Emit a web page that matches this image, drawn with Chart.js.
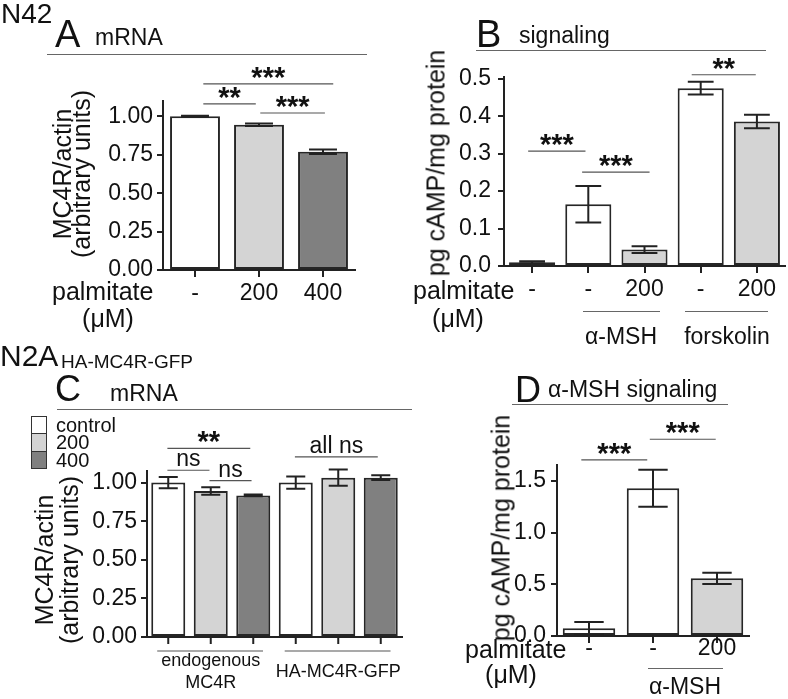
<!DOCTYPE html>
<html>
<head>
<meta charset="utf-8">
<script src="https://cdn.jsdelivr.net/npm/chart.js@4"></script>
<style>
body { margin: 0; background: #fff; }
#fig { position: relative; width: 788px; height: 699px; overflow: hidden; font-family: "Liberation Sans", Arial, sans-serif; color: #111; }
#fig canvas { position: absolute; left: 0; top: 0; }
.t { position: absolute; white-space: nowrap; line-height: 1; }
.rule { position: absolute; height: 0; border-top: 1.2px solid #666; }
.box { position: absolute; box-sizing: border-box; border: 1.5px solid #333; }
</style>
</head>
<body>
<div id="fig">
	<canvas id="chartA" width="788" height="699"></canvas>
	<canvas id="chartB" width="788" height="699"></canvas>
	<canvas id="chartC" width="788" height="699"></canvas>
	<canvas id="chartD" width="788" height="699"></canvas>
</div>
<script>
// ---- data ----
var WHITE = '#ffffff', LIGHT = '#d4d4d4', DARK = '#808080';

// A: N42 MC4R mRNA
var catsA = ['-', '200', '400'];
var mrnaA = [1.00, 0.945, 0.77];
var mrnaErrA = [0.004, 0.008, 0.015];
var ticksA = [0, 0.25, 0.5, 0.75, 1.0];

// B: N42 cAMP signaling
var catsB = ['-', '-', '200', '-', '200'];
var campB = [0.01, 0.165, 0.044, 0.475, 0.386];
var campErrB = [0.003, 0.049, 0.009, 0.017, 0.018];
var ticksB = [0, 0.1, 0.2, 0.3, 0.4, 0.5];

// C: N2A HA-MC4R-GFP mRNA
var groupsC = [['endogenous', 'MC4R'], 'HA-MC4R-GFP'];
var seriesC = ['control', '200', '400'];
var controlC = [1.00, 1.00];
var p200C = [0.946, 1.032];
var p400C = [0.917, 1.032];
var controlErrC = [0.036, 0.04];
var p200ErrC = [0.024, 0.052];
var p400ErrC = [0.006, 0.016];
var ticksC = [0, 0.25, 0.5, 0.75, 1.0];

// D: alpha-MSH signaling
var catsD = ['-', '-', '200'];
var campD = [0.075, 1.43, 0.558];
var campErrD = [0.06, 0.18, 0.055];
var ticksD = [0, 0.5, 1.0, 1.5];

// significance brackets: [from category, to category, height (y units), label]
var sigA = [[0.13, 0.95, 1.081, '**'], [1.02, 2.03, 1.022, '***'], [0.13, 2.16, 1.211, '***']];
var sigB = [[-0.07, 0.95, 0.307, '***'], [0.89, 2.09, 0.251, '***'], [2.84, 3.98, 0.511, '**']];
var sigC = [[-0.34, 0.31, 1.221, '**'], [-0.34, -0.01, 1.08, 'ns'], [-0.01, 0.32, 1.013, 'ns'], [0.66, 1.31, 1.167, 'all ns']];
var sigD = [[-0.12, 0.91, 1.704, '***'], [0.95, 1.98, 1.904, '***']];

Chart.defaults.font.family = '"Liberation Sans", Arial, sans-serif';
Chart.defaults.color = '#111';

// error bars + brackets (+ per-bar ticks and group rules for grouped panel)
function extras(brackets, grouped) {
	return {
		id: 'extras',
		afterDatasetsDraw: function(chart) {
			var ctx = chart.ctx, xs = chart.scales.x, ys = chart.scales.y, area = chart.chartArea;
			ctx.save();
			ctx.strokeStyle = '#222';
			ctx.lineWidth = 2;
			chart.data.datasets.forEach(function(ds, d) {
				chart.getDatasetMeta(d).data.forEach(function(bar, i) {
					var hi = ys.getPixelForValue(ds.data[i] + ds.err[i]);
					var lo = ys.getPixelForValue(ds.data[i] - ds.err[i]);
					var cap = bar.width * 0.28;
					ctx.beginPath();
					ctx.moveTo(bar.x, hi); ctx.lineTo(bar.x, lo);
					ctx.moveTo(bar.x - cap, hi); ctx.lineTo(bar.x + cap, hi);
					ctx.moveTo(bar.x - cap, lo); ctx.lineTo(bar.x + cap, lo);
					ctx.stroke();
					if (grouped) {
						ctx.beginPath();
						ctx.moveTo(bar.x, area.bottom); ctx.lineTo(bar.x, area.bottom + 7);
						ctx.stroke();
					}
				});
			});
			ctx.lineWidth = 1.2;
			ctx.strokeStyle = '#555';
			if (grouped) {
				chart.data.labels.forEach(function(l, i) {
					ctx.beginPath();
					ctx.moveTo(xs.getPixelForValue(i - 0.42), area.bottom + 14);
					ctx.lineTo(xs.getPixelForValue(i + 0.41), area.bottom + 14);
					ctx.stroke();
				});
			}
			ctx.fillStyle = '#111';
			ctx.textAlign = 'center';
			ctx.textBaseline = 'alphabetic';
			brackets.forEach(function(b) {
				var x1 = xs.getPixelForValue(b[0]), x2 = xs.getPixelForValue(b[1]), y = ys.getPixelForValue(b[2]);
				ctx.beginPath(); ctx.moveTo(x1, y); ctx.lineTo(x2, y); ctx.stroke();
				var star = b[3].indexOf('*') >= 0;
				ctx.font = star ? 'bold 29px "Liberation Sans", Arial, sans-serif' : '23px "Liberation Sans", Arial, sans-serif';
				ctx.fillText(b[3], (x1 + x2) / 2, star ? y + 3 : y - 4);
			});
			ctx.restore();
		}
	};
}

function bars(values, errs, colors, pct) {
	return {
		data: values, err: errs,
		backgroundColor: colors, borderColor: '#262626', borderWidth: 2, borderSkipped: false,
		barPercentage: pct, categoryPercentage: 1
	};
}

function panel(id, o) {
	return new Chart(document.getElementById(id), {
		type: 'bar',
		data: { labels: o.labels, datasets: o.datasets },
		options: {
			responsive: false,
			animation: false,
			events: [],
			layout: { padding: o.pad },
			plugins: { legend: { display: false }, tooltip: { enabled: false } },
			scales: {
				x: {
					grid: { offset: false, drawOnChartArea: false, tickLength: 7, lineWidth: 2, color: o.grouped ? 'rgba(0,0,0,0)' : '#222' },
					border: { color: '#222', width: 2 },
					ticks: { font: { size: o.xFont, lineHeight: o.xLine }, color: '#111', padding: o.xPad, maxRotation: 0, autoSkip: false, crossAlign: o.grouped ? 'center' : 'near' },
					afterFit: function(s) { s.height = o.xh; }
				},
				y: {
					min: 0, max: o.max,
					grid: { drawOnChartArea: false, tickLength: 6, lineWidth: 2, color: '#222' },
					border: { color: '#222', width: 2 },
					ticks: { font: { size: 23 }, color: '#111', padding: o.yPad, callback: function(v) { return v.toFixed(o.dec); } },
					afterBuildTicks: function(s) { s.ticks = o.ticks.map(function(v) { return { value: v }; }); },
					afterFit: function(s) { s.width = 60; }
				}
			}
		},
		plugins: [extras(o.sig, o.grouped)]
	});
}

panel('chartA', {
	labels: catsA,
	datasets: [bars(mrnaA, mrnaErrA, [WHITE, LIGHT, DARK], 0.78)],
	pad: { left: 103, right: 433, top: 101, bottom: 379 }, xh: 50,
	max: 1.1, ticks: ticksA, dec: 2, sig: sigA, xFont: 23, xPad: 3, yPad: 4
});

panel('chartB', {
	labels: catsB,
	datasets: [bars(campB, campErrB, [WHITE, WHITE, LIGHT, WHITE, LIGHT], 0.82)],
	pad: { left: 444, right: 3, top: 77, bottom: 383 }, xh: 50,
	max: 0.505, ticks: ticksB, dec: 1, sig: sigB, xFont: 23, xPad: 3, yPad: 7
});

panel('chartC', {
	labels: groupsC,
	datasets: [
		bars(controlC, controlErrC, WHITE, 0.8),
		bars(p200C, p200ErrC, LIGHT, 0.8),
		bars(p400C, p400ErrC, DARK, 0.8)
	],
	pad: { left: 87, right: 386, top: 471, bottom: 0 }, xh: 62,
	max: 1.075, ticks: ticksC, dec: 2, sig: sigC, xFont: 18, xLine: 22 / 18, xPad: 17, yPad: 4, grouped: true
});

panel('chartD', {
	labels: catsD,
	datasets: [bars(campD, campErrD, [WHITE, WHITE, LIGHT], 0.82)],
	pad: { left: 497, right: 39, top: 465, bottom: 23 }, xh: 40,
	max: 1.655, ticks: ticksD, dec: 1, sig: sigD, xFont: 23, xPad: -8, yPad: 5
});

// ---- text and rules ----
var fig = document.getElementById('fig');
function text(str, x, base, size, center) {
	var el = document.createElement('div');
	el.className = 't';
	el.textContent = str;
	el.style.fontSize = size + 'px';
	el.style.left = x + 'px';
	el.style.top = (base - 0.85 * size) + 'px';
	if (center) el.style.transform = 'translateX(-50%)';
	fig.appendChild(el);
}
function vtext(str, baseX, cy, size) {
	var el = document.createElement('div');
	el.className = 't';
	el.textContent = str;
	el.style.fontSize = size + 'px';
	el.style.left = (baseX - 0.35 * size) + 'px';
	el.style.top = cy + 'px';
	el.style.transform = 'translate(-50%,-50%) rotate(-90deg)';
	fig.appendChild(el);
}
function rule(x1, x2, y) {
	var el = document.createElement('div');
	el.className = 'rule';
	el.style.left = x1 + 'px';
	el.style.width = (x2 - x1) + 'px';
	el.style.top = y + 'px';
	fig.appendChild(el);
}

// A
text('N42', 1, 24, 28);
text('A', 55, 47, 38);
text('mRNA', 95, 46, 23);
rule(47, 367, 54);
text('palmitate', 52, 300, 25);
text('(μM)', 108, 327, 25, true);
vtext('MC4R/actin', 70.5, 174, 25);
vtext('(arbitrary units)', 90, 174, 25);

// B
text('B', 476, 47, 38);
text('signaling', 519, 44, 23);
rule(476, 766, 50);
text('palmitate', 413, 299, 25);
text('(μM)', 458, 327, 25, true);
rule(583, 660, 311);
rule(685, 768, 311);
text('α-MSH', 621, 345, 23, true);
text('forskolin', 727, 345, 23, true);
vtext('pg cAMP/mg protein', 445, 163, 25);

// C
text('N2A', 0, 366, 30);
text('HA-MC4R-GFP', 61, 368, 19);
text('C', 55, 402, 36);
text('mRNA', 110, 402, 23);
rule(57, 412, 409);
vtext('MC4R/actin', 53, 560, 25);
vtext('(arbitrary units)', 78, 560, 25);
[WHITE, LIGHT, DARK].forEach(function(c, i) {
	var b = document.createElement('div');
	b.className = 'box';
	b.style.left = '31px';
	b.style.top = (415.5 + i * 17.5) + 'px';
	b.style.width = '16px';
	b.style.height = '18.5px';
	b.style.background = c;
	fig.appendChild(b);
	text(seriesC[i], 56, 432 + i * 17.3, 20);
});

// D
text('D', 515, 403, 36);
text('α-MSH signaling', 548, 398, 23);
rule(512, 728, 404);
text('palmitate', 465, 658, 25);
text('(μM)', 511, 683, 25, true);
rule(648, 723, 667.5);
text('α-MSH', 685, 695, 23, true);
vtext('pg cAMP/mg protein', 510, 528, 25);
</script>
</body>
</html>
